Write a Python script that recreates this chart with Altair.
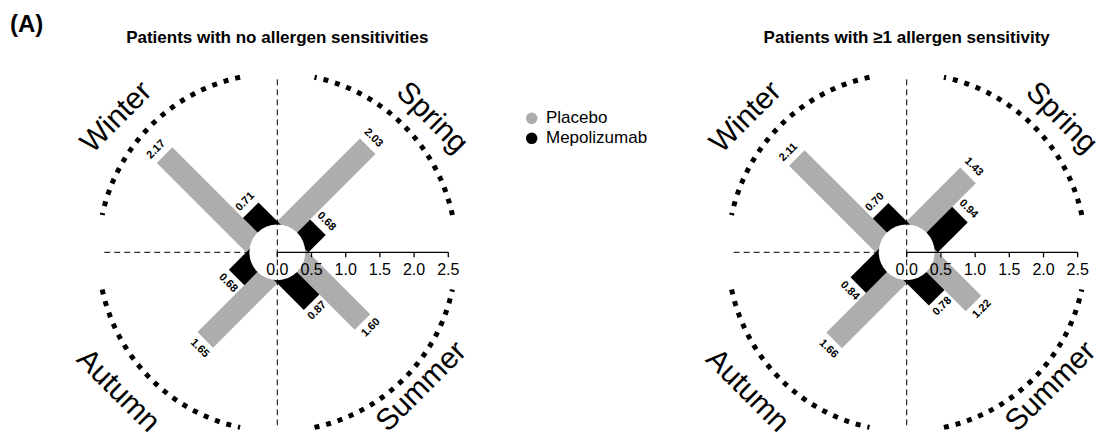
import altair as alt
import pandas as pd
import math

# ---- geometry (pixels) ----
W_PX, H_PX = 1105, 445
K = 68.4                     # pixels per unit on the radial value scale
CENTERS_PX = [277.3, 906.7]  # x of each panel's origin
CY_PX = 252.3                # y of both origins (from top)
BAR_PX = 22                  # thickness of one bar lane
HOLE_PX = 31.5               # radius of the white hub
ARC_PX = 179                 # radius of the dotted season arcs
ARC_HALF = 33                # half-span of each arc, degrees
GUIDE_LEN = 2.53             # length of dashed guide lines (units)
FONT = "Liberation Sans, Arial, sans-serif"

# ---- data ----
seasons = ["Spring", "Winter", "Autumn", "Summer"]
season_deg = [45, 135, 225, 315]
season_rot = [45, 315, 45, 315]          # text rotation per quadrant
season_name_deg = [41, 140, 221, 317]    # where each season name sits
season_name_r = [205, 210, 211, 197]
groups = ["Placebo", "Mepolizumab"]
group_colors = ["#adadad", "#000000"]
panel_titles = ["Patients with no allergen sensitivities",
                "Patients with \u22651 allergen sensitivity"]

placebo_no_sens = [2.03, 2.17, 1.65, 1.60]
mepolizumab_no_sens = [0.68, 0.71, 0.68, 0.87]
placebo_sens = [1.43, 2.11, 1.66, 1.22]
mepolizumab_sens = [0.94, 0.70, 0.84, 0.78]

tick_values = [0.0, 0.5, 1.0, 1.5, 2.0, 2.5]
tick_labels = ["0.0", "0.5", "1.0", "1.5", "2.0", "2.5"]

panel_values = [(placebo_no_sens, mepolizumab_no_sens),
                (placebo_sens, mepolizumab_sens)]
panel_cx = [(c - CENTERS_PX[0]) / K for c in CENTERS_PX]

# ---- tables ----
bar_rows = []
for p, (pl, me) in enumerate(panel_values):
    for i, s in enumerate(seasons):
        for g, side, vals in ((groups[0], 1, pl), (groups[1], -1, me)):
            bar_rows.append(dict(panel=p, cx=panel_cx[p], season=s,
                                 deg=season_deg[i], rot=season_rot[i],
                                 group=g, side=side, value=vals[i]))
bars = pd.DataFrame(bar_rows)

hubs = pd.DataFrame({"cx": panel_cx, "cy": [0.0, 0.0]})

vguides = pd.DataFrame({"x": panel_cx, "y": [-GUIDE_LEN] * 2,
                        "x2": panel_cx, "y2": [GUIDE_LEN] * 2})
hguides = pd.DataFrame({"x": [c - GUIDE_LEN for c in panel_cx], "y": [0.0] * 2,
                        "x2": panel_cx, "y2": [0.0] * 2})
axis_lines = pd.DataFrame({"x": panel_cx, "y": [0.0] * 2,
                           "x2": [c + tick_values[-1] for c in panel_cx],
                           "y2": [0.0] * 2})
tick_rows = []
for c in panel_cx:
    for v, lab in zip(tick_values, tick_labels):
        tick_rows.append(dict(x=c + v, y=0.0, y2=-5 / K, ly=-17.7 / K, label=lab))
ticks = pd.DataFrame(tick_rows)

arc_rows = []
for p, c in enumerate(panel_cx):
    for s, d in zip(seasons, season_deg):
        for j in range(2 * ARC_HALF + 1):
            a = math.radians(d - ARC_HALF + j)
            arc_rows.append(dict(key=f"{p}-{s}", i=j,
                                 x=c + ARC_PX / K * math.cos(a),
                                 y=ARC_PX / K * math.sin(a)))
arcs = pd.DataFrame(arc_rows)

name_rows = []
for c in panel_cx:
    for s, d, r, rot in zip(seasons, season_name_deg, season_name_r, season_rot):
        a = math.radians(d)
        name_rows.append(dict(name=s, rot=rot,
                              x=c + r / K * math.cos(a),
                              y=r / K * math.sin(a)))
names = pd.DataFrame(name_rows)

# ---- scales ----
xs = alt.Scale(domain=[-CENTERS_PX[0] / K, (W_PX - CENTERS_PX[0]) / K],
               nice=False, zero=False)
ys = alt.Scale(domain=[-(H_PX - CY_PX) / K, CY_PX / K], nice=False, zero=False)


def X(f):
    return alt.X(f, type="quantitative", scale=xs, axis=None)


def Y(f):
    return alt.Y(f, type="quantitative", scale=ys, axis=None)


color = alt.Color("group:N", scale=alt.Scale(domain=groups, range=group_colors),
                  legend=None)

half = BAR_PX / 2 / K
lab_lane = 13 / K
lab_gap = 10 / K

bar_base = alt.Chart(bars).transform_calculate(
    a="datum.deg * PI / 180"
).transform_calculate(
    bx=f"datum.cx - datum.side * {half} * sin(datum.a)",
    by=f"datum.side * {half} * cos(datum.a)",
    tx=f"datum.cx - datum.side * {lab_lane} * sin(datum.a)",
    ty=f"datum.side * {lab_lane} * cos(datum.a)",
).transform_calculate(
    ex="datum.bx + datum.value * cos(datum.a)",
    ey="datum.by + datum.value * sin(datum.a)",
    lx=f"datum.tx + (datum.value + {lab_gap}) * cos(datum.a)",
    ly=f"datum.ty + (datum.value + {lab_gap}) * sin(datum.a)",
)

bar_layer = bar_base.mark_rule(strokeWidth=BAR_PX, strokeCap="butt").encode(
    x=X("bx"), y=Y("by"), x2="ex", y2="ey", color=color)

value_labels = bar_base.mark_text(
    font=FONT, fontSize=11, fontWeight="bold", align="center", baseline="middle",
    color="black"
).encode(x=X("lx"), y=Y("ly"), text=alt.Text("value:Q", format=".2f"),
         angle=alt.Angle("rot:Q", scale=None))

hguide_layer = alt.Chart(hguides).mark_rule(
    strokeDash=[6, 4], strokeWidth=1, color="black"
).encode(x=X("x"), y=Y("y"), x2="x2", y2="y2")

hub_layer = alt.Chart(hubs).mark_circle(
    size=math.pi * HOLE_PX ** 2, color="white", opacity=1
).encode(x=X("cx"), y=Y("cy"))

vguide_layer = alt.Chart(vguides).mark_rule(
    strokeDash=[6, 4], strokeWidth=1, color="black"
).encode(x=X("x"), y=Y("y"), x2="x2", y2="y2")

axis_layer = alt.Chart(axis_lines).mark_rule(strokeWidth=1.3, color="black").encode(
    x=X("x"), y=Y("y"), x2="x2", y2="y2")

tick_layer = alt.Chart(ticks).mark_rule(strokeWidth=1.3, color="black").encode(
    x=X("x"), y=Y("y"), y2="y2")

tick_text = alt.Chart(ticks).mark_text(
    font=FONT, fontSize=16, align="center", baseline="middle", color="black"
).encode(x=X("x"), y=Y("ly"), text="label:N")

arc_layer = alt.Chart(arcs).mark_line(
    strokeWidth=5, strokeDash=[5, 7], strokeCap="butt", color="black"
).encode(x=X("x"), y=Y("y"), detail="key:N", order="i:Q")

name_layer = alt.Chart(names).mark_text(
    font=FONT, fontSize=30, align="center", baseline="middle", color="black"
).encode(x=X("x"), y=Y("y"), text="name:N", angle=alt.Angle("rot:Q", scale=None))

title_df = pd.DataFrame({"x": panel_cx, "y": [(CY_PX - 38) / K] * 2,
                         "title": panel_titles})
title_layer = alt.Chart(title_df).mark_text(
    font=FONT, fontSize=17, fontWeight="bold", align="center", baseline="middle",
    color="black"
).encode(x=X("x"), y=Y("y"), text="title:N")

tag_layer = alt.Chart(pd.DataFrame({"t": ["(A)"]})).mark_text(
    font=FONT, fontSize=24, fontWeight="bold", align="left", baseline="middle",
    color="black"
).encode(x=alt.value(10), y=alt.value(25), text="t:N")

# legend: one row per treatment group
legend_df = pd.DataFrame({"group": groups, "row": [0, 1]})
legend_y = alt.Y("row:Q", scale=alt.Scale(domain=[0, 1], range=[118.3, 138.3]),
                 axis=None)
legend_dots = alt.Chart(legend_df).mark_circle(size=135, opacity=1).encode(
    x=alt.value(531.7), y=legend_y, color=color)
legend_text = alt.Chart(legend_df).mark_text(
    font=FONT, fontSize=17, align="left", baseline="middle", color="black"
).encode(x=alt.value(546), y=legend_y, text="group:N")

chart = alt.layer(
    hguide_layer, bar_layer, hub_layer, vguide_layer, axis_layer, tick_layer,
    tick_text, value_labels, arc_layer, name_layer, title_layer, tag_layer,
    legend_dots, legend_text
).resolve_scale(y="independent").properties(
    width=W_PX, height=H_PX, padding=0,
    autosize=alt.AutoSizeParams(type="none"), background="white"
).configure_view(stroke=None)

chart.save("out.html", embed_options={"renderer": "svg", "actions": False})
